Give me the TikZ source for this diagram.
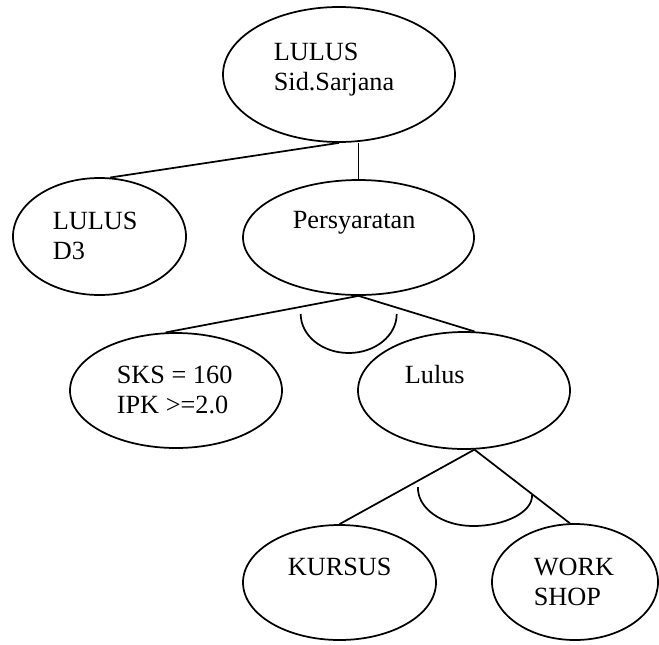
\documentclass[tikz,border=0pt]{standalone}
\usepackage{fontspec}
\setmainfont{Liberation Serif}
\usetikzlibrary{shapes.geometric}

\begin{document}
\begin{tikzpicture}[x=0.75pt, y=-0.75pt, line width=1.3pt,
  goal/.style={draw, ellipse, inner sep=0pt},
  txt/.style={anchor=base west, align=left, inner sep=0pt, font=\fontsize{19.7}{22.5}\selectfont}]
\useasboundingbox (0,0) rectangle (659,644);
\node[goal, minimum width=174pt, minimum height=101.25pt] (top) at (339,74.5) {};
\node[goal, minimum width=129.75pt, minimum height=87.75pt] (d3) at (99.5,236.5) {};
\node[goal, minimum width=173.25pt, minimum height=86.25pt] (persy) at (358.5,237.5) {};
\node[goal, minimum width=159pt, minimum height=86.25pt] (sks) at (176,390.5) {};
\node[goal, minimum width=159pt, minimum height=87.75pt] (lulus) at (464,390.5) {};
\node[goal, minimum width=144.75pt, minimum height=86.25pt] (kursus) at (339.5,582.5) {};
\node[goal, minimum width=124.5pt, minimum height=87pt] (ws) at (575,582) {};
% texts sit left-aligned inside the ovals (base = last line)
\node[txt] (ttop) at (273,90) {LULUS\\Sid.Sarjana};
\node[txt] (td3) at (52,259) {LULUS\\D3};
\node[txt] (tpersy) at (292,228) {Persyaratan};
\node[txt] (tsks) at (116,413) {SKS = 160\\IPK >=2.0};
\node[txt] (tlulus) at (404,383) {Lulus};
\node[txt] (tkursus) at (287,575) {KURSUS};
\node[txt] (tws) at (533,605) {WORK\\SHOP};
\draw (top.south) -- (d3.80); \draw (top.south -| persy.north) -- (persy.north);
\draw (persy.south) -- (sks.100); \draw (persy.south) -- (lulus.80);
\draw (lulus.-80) -- (kursus.north); \draw (lulus.-80) -- (ws.95);
% AND arcs
\draw (396.7,314) arc[start angle=0, end angle=180, x radius=48, y radius=39];
\draw (418,487) .. controls (417,508) and (442,526) .. (473,526) .. controls (505,526) and (533,512) .. (532,495);
\end{tikzpicture}
\end{document}
